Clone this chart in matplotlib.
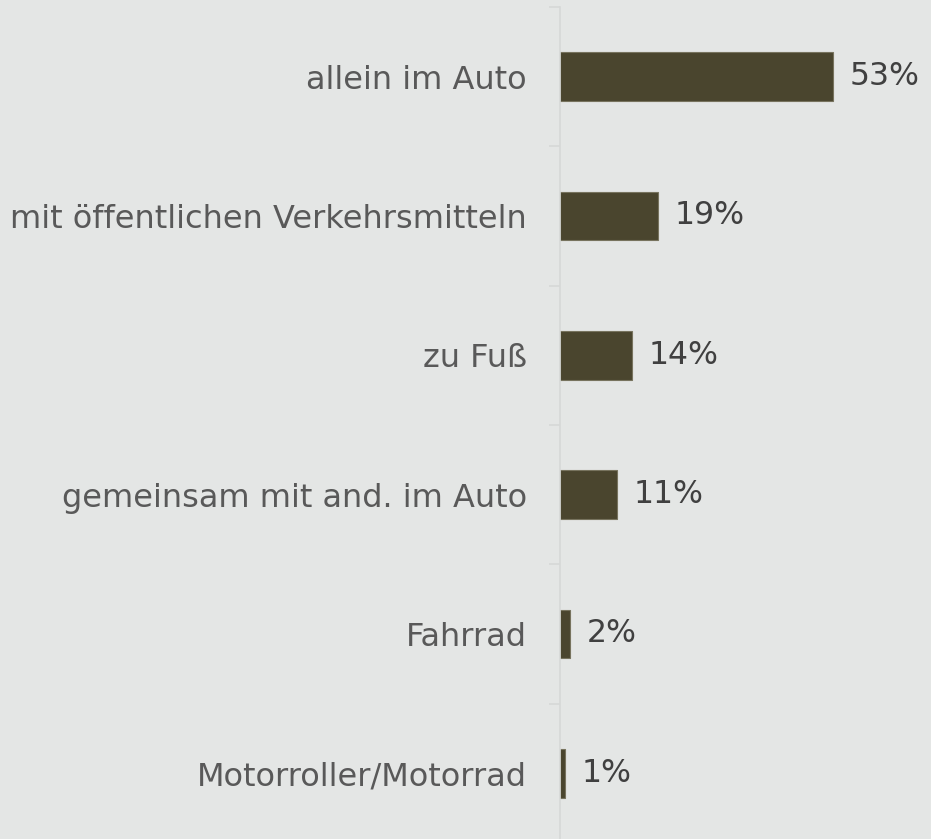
import numpy as np
import matplotlib.pyplot as plt

CATEGORIES = ['allein im Auto', 'mit öffentlichen Verkehrsmitteln', 'zu Fuß',
              'gemeinsam mit and. im Auto', 'Fahrrad', 'Motorroller/Motorrad']
SHARES = [53, 19, 14, 11, 2, 1]
VALUE_LABELS = ['53%', '19%', '14%', '11%', '2%', '1%']

BG = '#e4e6e5'
BAR = '#4a452e'


def generate_plot():
    fig = plt.figure(figsize=(9.31, 8.39), dpi=100)
    fig.patch.set_facecolor(BG)
    # axis line sits at x=560px, top at y=7px
    ax = fig.add_axes([560 / 931, -4 / 839, 1 - 560 / 931, 836 / 839])
    ax.set_facecolor(BG)

    y = np.arange(len(CATEGORIES))
    ax.barh(y, SHARES, height=0.35, color=BAR, edgecolor='#77735e', linewidth=0.8)

    for yi, v, lab in zip(y, SHARES, VALUE_LABELS):
        ax.annotate(lab, (v, yi), xytext=(12, 0), textcoords='offset points',
                    va='center', ha='left', fontsize=22.7, color='#404040')

    ax.set_xlim(0, 72)
    ax.set_ylim(len(CATEGORIES) - 0.5, -0.5)

    ax.set_yticks(y)
    ax.set_yticklabels(CATEGORIES, fontsize=23, color='#595959')
    ax.tick_params(axis='y', which='major', length=0, pad=24)
    ax.set_yticks(np.arange(-0.5, len(CATEGORIES), 1.0), minor=True)
    ax.tick_params(axis='y', which='minor', length=8, color='#d6d8d7', width=1.2)
    ax.set_xticks([])

    for s in ['top', 'right', 'bottom']:
        ax.spines[s].set_visible(False)
    ax.spines['left'].set_color('#d6d8d7')
    ax.spines['left'].set_linewidth(1.2)

    plt.savefig('out.png', facecolor=BG)


if __name__ == "__main__":
    generate_plot()
